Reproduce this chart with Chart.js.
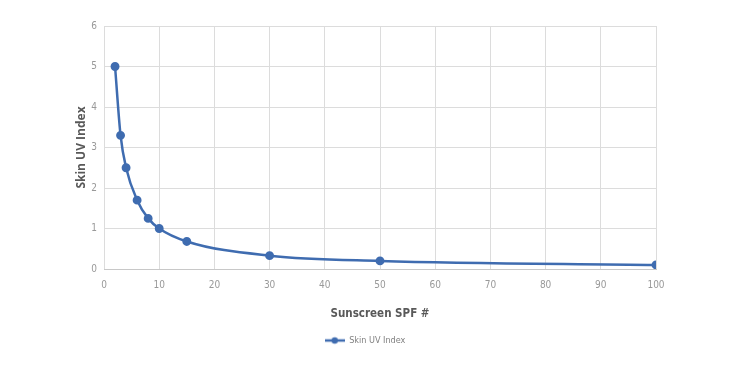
<!DOCTYPE html>
<html>
<head>
<meta charset="utf-8">
<script src="https://cdn.jsdelivr.net/npm/chart.js@4"></script>
<style>
  html,body{margin:0;padding:0;background:#fff}
  #wrap{width:750px;height:375px;position:relative}
</style>
</head>
<body>
<div id="wrap"><canvas id="c"></canvas></div>
<script>
const spf=[2,3,4,6,8,10,15,30,50,100];
const uvIndex=[5,3.3,2.5,1.7,1.25,1,0.68,0.33,0.2,0.1];
const seriesName='Skin UV Index';
const blue='#3F6CB0';
const narrow='"Liberation Sans Narrow","DejaVu Sans Condensed",Roboto';

// legend marker: short line with a dot, like the spreadsheet legend
const mk=document.createElement('canvas');
mk.width=20;mk.height=10;
const g=mk.getContext('2d');
g.strokeStyle=blue;g.lineWidth=2.5;
g.beginPath();g.moveTo(0,5);g.lineTo(20,5);g.stroke();
g.fillStyle=blue;g.beginPath();g.arc(10,5,3.2,0,Math.PI*2);g.fill();

new Chart(document.getElementById('c'),{
  type:'line',
  data:{datasets:[{
    label:seriesName,
    data:spf.map((x,i)=>({x:x,y:uvIndex[i]})),
    borderColor:blue,backgroundColor:blue,
    borderWidth:2.5,pointRadius:3.2,pointHoverRadius:3.2,
    cubicInterpolationMode:'monotone',fill:false
  }]},
  options:{
    responsive:true,maintainAspectRatio:false,animation:false,
    layout:{padding:{left:74,right:94,top:26,bottom:20}},
    plugins:{
      tooltip:{enabled:false},
      legend:{position:'bottom',
        labels:{usePointStyle:true,pointStyleWidth:20,boxHeight:10,
          generateLabels:ch=>[{text:seriesName,pointStyle:mk,fillStyle:blue,strokeStyle:blue,lineWidth:0,datasetIndex:0,fontColor:'#7f7f7f'}],
          font:{family:narrow,size:9},color:'#7f7f7f',padding:10}}
    },
    scales:{
      x:{type:'linear',min:0,max:100,
        ticks:{stepSize:10,padding:10,color:'#999',font:{family:narrow,size:10}},
        grid:{color:'#dcdcdc',drawTicks:false},
        border:{color:'#c8c8c8'},
        title:{display:true,text:'Sunscreen SPF #',color:'#595959',padding:{top:0,bottom:5},
          font:{family:narrow,size:11.5,weight:'bold'}},
        afterFit:s=>{s.height=57;}
      },
      y:{min:0,max:6,
        ticks:{stepSize:1,padding:7,color:'#999',font:{family:narrow,size:10}},
        grid:{color:'#dcdcdc',drawTicks:false},
        border:{display:false},
        title:{display:true,text:'Skin UV Index',color:'#595959',padding:{top:0,bottom:0},
          font:{family:'"Open Sans"',size:12,weight:'bold'}},
        afterFit:s=>{s.width=30;}
      }
    }
  }
});
</script>
</body>
</html>
